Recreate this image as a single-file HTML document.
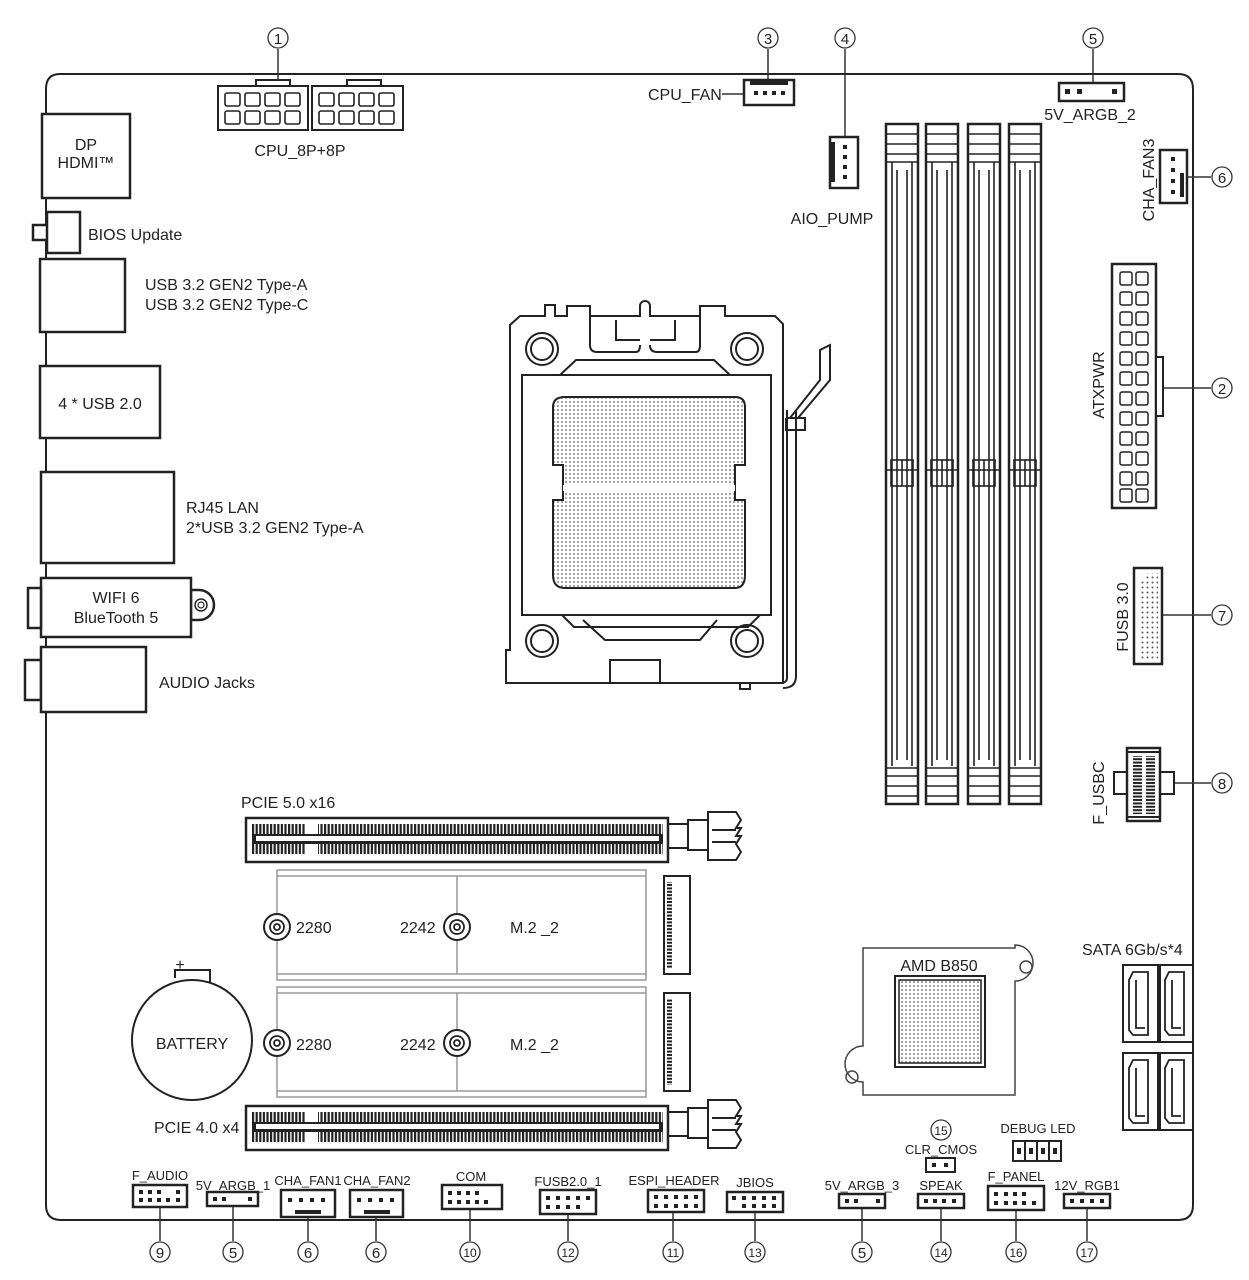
<!DOCTYPE html>
<html><head><meta charset="utf-8"><style>
html,body{margin:0;padding:0;background:#fff}
svg{display:block}
text{font-family:"Liberation Sans",sans-serif;fill:#222}
.l{font-size:16px}
.s{font-size:13px}
.n{font-size:15px;text-anchor:middle}
</style></head><body>
<svg width="1249" height="1280" viewBox="0 0 1249 1280" xmlns="http://www.w3.org/2000/svg">
<defs>
<pattern id="dots" width="5" height="5" patternUnits="userSpaceOnUse"><circle cx="2.5" cy="2.5" r="1" fill="#555"/></pattern>
<pattern id="teeth" width="3.6" height="20" patternUnits="userSpaceOnUse"><rect x="0" y="0" width="2.2" height="20" fill="#222"/></pattern>
<pattern id="hteeth" width="20" height="3.4" patternUnits="userSpaceOnUse"><rect x="0" y="0" width="20" height="2" fill="#222"/></pattern>
<pattern id="cdots" width="4" height="4" patternUnits="userSpaceOnUse"><circle cx="2" cy="2" r="0.9" fill="#666"/></pattern>
</defs>
<g fill="none" stroke="#222" stroke-width="2">
<path d="M60 74 H1178 Q1193 74 1193 89 V1205 Q1193 1220 1178 1220 H61 Q46 1220 46 1205 V89 Q46 74 60 74 Z"/>
</g>
<g fill="#fff" stroke="#222" stroke-width="2.5">
<rect x="42" y="114" width="88" height="84"/>
<rect x="33" y="225" width="15" height="15"/>
<rect x="47" y="212" width="33" height="41"/>
<rect x="40" y="259" width="85" height="73"/>
<rect x="40" y="366" width="120" height="72"/>
<rect x="41" y="472" width="133" height="91"/>
<path d="M191 590 h8 a14 14 0 0 1 0 30 h-8 z"/>
<rect x="41" y="578" width="150" height="59"/>
<rect x="28" y="588" width="13" height="40"/>
<rect x="25" y="660" width="16" height="40"/>
<rect x="41" y="647" width="105" height="65"/>
</g>
<circle cx="201" cy="605" r="6" fill="none" stroke="#222" stroke-width="1.5"/>
<circle cx="201" cy="605" r="3" fill="none" stroke="#222" stroke-width="1.2"/>
<text x="86" y="150" class="l" text-anchor="middle">DP</text>
<text x="86" y="168" class="l" text-anchor="middle">HDMI™</text>
<text x="88" y="240" class="l">BIOS Update</text>
<text x="145" y="290" class="l">USB 3.2 GEN2 Type-A</text>
<text x="145" y="310" class="l">USB 3.2 GEN2 Type-C</text>
<text x="100" y="409" class="l" text-anchor="middle">4 * USB 2.0</text>
<text x="186" y="513" class="l">RJ45 LAN</text>
<text x="186" y="533" class="l">2*USB 3.2 GEN2 Type-A</text>
<text x="116" y="603" class="l" text-anchor="middle">WIFI 6</text>
<text x="116" y="623" class="l" text-anchor="middle">BlueTooth 5</text>
<text x="159" y="688" class="l">AUDIO Jacks</text>

<g fill="#fff" stroke="#222" stroke-width="2">
<rect x="256" y="80" width="34" height="6"/><rect x="347" y="80" width="34" height="6"/>
<rect x="218" y="86" width="90" height="44"/><rect x="312" y="86" width="91" height="44"/>
</g>
<g fill="none" stroke="#222" stroke-width="1.6">
<rect x="225" y="93" width="15" height="13" rx="2"/><rect x="245" y="93" width="15" height="13" rx="2"/><rect x="265" y="93" width="15" height="13" rx="2"/><rect x="285" y="93" width="15" height="13" rx="2"/>
<rect x="225" y="111" width="15" height="13" rx="2"/><rect x="245" y="111" width="15" height="13" rx="2"/><rect x="265" y="111" width="15" height="13" rx="2"/><rect x="285" y="111" width="15" height="13" rx="2"/>
<rect x="319" y="93" width="15" height="13" rx="2"/><rect x="339" y="93" width="15" height="13" rx="2"/><rect x="359" y="93" width="15" height="13" rx="2"/><rect x="379" y="93" width="15" height="13" rx="2"/>
<rect x="319" y="111" width="15" height="13" rx="2"/><rect x="339" y="111" width="15" height="13" rx="2"/><rect x="359" y="111" width="15" height="13" rx="2"/><rect x="379" y="111" width="15" height="13" rx="2"/>
</g>
<text x="300" y="156" class="l" text-anchor="middle">CPU_8P+8P</text>

<g stroke="#333" stroke-width="1.5">
<line x1="278" y1="49" x2="278" y2="80"/>
<line x1="768" y1="49" x2="768" y2="80"/>
<line x1="722" y1="94" x2="744" y2="94"/>
<line x1="845" y1="49" x2="845" y2="137"/>
<line x1="1093" y1="49" x2="1093" y2="83"/>
<line x1="1187" y1="177" x2="1211" y2="177"/>
<line x1="1163" y1="388" x2="1211" y2="388"/>
<line x1="1162" y1="615" x2="1211" y2="615"/>
<line x1="1175" y1="783" x2="1211" y2="783"/>
</g>
<rect x="744" y="80" width="50" height="25" fill="#fff" stroke="#222" stroke-width="2.5"/>
<rect x="750" y="81" width="38" height="4" fill="#222"/>
<g fill="#222"><rect x="754" y="91" width="4" height="4"/><rect x="763" y="91" width="4" height="4"/><rect x="772" y="91" width="4" height="4"/><rect x="781" y="91" width="4" height="4"/></g>
<text x="648" y="100" class="l">CPU_FAN</text>
<rect x="830" y="137" width="28" height="51" fill="#fff" stroke="#222" stroke-width="2.5"/>
<rect x="831" y="142" width="4" height="40" fill="#222"/>
<g fill="#222"><rect x="843" y="145" width="4" height="4"/><rect x="843" y="155" width="4" height="4"/><rect x="843" y="165" width="4" height="4"/><rect x="843" y="175" width="4" height="4"/></g>
<text x="832" y="224" class="l" text-anchor="middle">AIO_PUMP</text>
<rect x="1059" y="83" width="65" height="18" fill="#fff" stroke="#222" stroke-width="2.5"/>
<g fill="#222"><rect x="1065" y="89" width="5" height="5"/><rect x="1077" y="89" width="5" height="5"/><rect x="1112" y="89" width="5" height="5"/></g>
<text x="1090" y="120" class="l" text-anchor="middle">5V_ARGB_2</text>
<rect x="1160" y="150" width="27" height="53" fill="#fff" stroke="#222" stroke-width="2.5"/>
<rect x="1180" y="173" width="4" height="24" fill="#222"/>
<g fill="#222"><rect x="1171" y="157" width="4" height="4"/><rect x="1171" y="168" width="4" height="4"/><rect x="1171" y="179" width="4" height="4"/><rect x="1171" y="190" width="4" height="4"/></g>
<text transform="translate(1154,180) rotate(-90)" class="l" text-anchor="middle">CHA_FAN3</text>
<rect x="1112" y="264" width="44" height="244" fill="#fff" stroke="#222" stroke-width="2.5"/>
<rect x="1156" y="357" width="7" height="59" fill="#fff" stroke="#222" stroke-width="2"/>
<g fill="none" stroke="#222" stroke-width="1.5">
<rect x="1120" y="272" width="12" height="13" rx="2"/><rect x="1136" y="272" width="12" height="13" rx="2"/>
<rect x="1120" y="292" width="12" height="13" rx="2"/><rect x="1136" y="292" width="12" height="13" rx="2"/>
<rect x="1120" y="312" width="12" height="13" rx="2"/><rect x="1136" y="312" width="12" height="13" rx="2"/>
<rect x="1120" y="332" width="12" height="13" rx="2"/><rect x="1136" y="332" width="12" height="13" rx="2"/>
<rect x="1120" y="352" width="12" height="13" rx="2"/><rect x="1136" y="352" width="12" height="13" rx="2"/>
<rect x="1120" y="372" width="12" height="13" rx="2"/><rect x="1136" y="372" width="12" height="13" rx="2"/>
<rect x="1120" y="392" width="12" height="13" rx="2"/><rect x="1136" y="392" width="12" height="13" rx="2"/>
<rect x="1120" y="412" width="12" height="13" rx="2"/><rect x="1136" y="412" width="12" height="13" rx="2"/>
<rect x="1120" y="432" width="12" height="13" rx="2"/><rect x="1136" y="432" width="12" height="13" rx="2"/>
<rect x="1120" y="452" width="12" height="13" rx="2"/><rect x="1136" y="452" width="12" height="13" rx="2"/>
<rect x="1120" y="472" width="12" height="13" rx="2"/><rect x="1136" y="472" width="12" height="13" rx="2"/>
<rect x="1120" y="489" width="12" height="13" rx="2"/><rect x="1136" y="489" width="12" height="13" rx="2"/>
</g>
<text transform="translate(1104,385) rotate(-90)" class="l" text-anchor="middle">ATXPWR</text>
<rect x="1134" y="568" width="28" height="96" fill="#fff" stroke="#222" stroke-width="2.5"/>
<rect x="1139" y="573" width="19" height="87" fill="url(#dots)"/>
<rect x="1139" y="571" width="6" height="8" fill="#fff"/>
<text transform="translate(1128,617) rotate(-90)" class="l" text-anchor="middle">FUSB 3.0</text>
<!-- F_USBC -->
<rect x="1114" y="772" width="14" height="22" fill="#fff" stroke="#222" stroke-width="2"/>
<rect x="1160" y="772" width="14" height="22" fill="#fff" stroke="#222" stroke-width="2"/>
<rect x="1127" y="748" width="33" height="73" fill="#fff" stroke="#222" stroke-width="2.5"/>
<rect x="1133" y="756" width="9" height="58" fill="url(#hteeth)"/>
<rect x="1146" y="756" width="9" height="58" fill="url(#hteeth)"/>
<line x1="1127" y1="752" x2="1160" y2="752" stroke="#222" stroke-width="2"/>
<line x1="1127" y1="817" x2="1160" y2="817" stroke="#222" stroke-width="2"/>
<text transform="translate(1104,793) rotate(-90)" class="l" text-anchor="middle">F_USBC</text>

<g id="dimm">
<rect x="886" y="124" width="32" height="680" fill="#fff" stroke="#222" stroke-width="2.5"/>
<g stroke="#222" stroke-width="1.6" fill="none">
<line x1="886" y1="134" x2="918" y2="134"/><line x1="886" y1="144" x2="918" y2="144"/><line x1="886" y1="154" x2="918" y2="154"/><line x1="886" y1="162" x2="918" y2="162"/>
<line x1="892" y1="162" x2="892" y2="766"/><line x1="897" y1="170" x2="897" y2="760"/><line x1="907" y1="170" x2="907" y2="760"/><line x1="912" y1="162" x2="912" y2="766"/>
<line x1="886" y1="768" x2="918" y2="768"/><line x1="886" y1="776" x2="918" y2="776"/><line x1="886" y1="786" x2="918" y2="786"/><line x1="886" y1="796" x2="918" y2="796"/>
<rect x="891" y="460" width="22" height="26"/><line x1="902" y1="460" x2="902" y2="486"/>
<line x1="886" y1="470" x2="918" y2="470"/>
</g>
</g>
<use href="#dimm" x="40"/><use href="#dimm" x="82"/><use href="#dimm" x="123"/>

<g fill="none" stroke="#222" stroke-width="2">
<path d="M520 316 H545 V305 H555 V316 H567 V306 H590 V316 H623 H640 V306 a5 5 0 0 1 10 0 V316 H700 V306 H725 V316 H752 H775 L783 324 V683 H506 V650 H510 V325 Z"/>
<path d="M590 316 V345 Q590 352 597 352 H636 Q640 352 640 345 M650 345 Q650 352 657 352 H696 Q700 352 700 345 V316"/>
<path d="M616 320 V340 H640 M650 340 H675 V320"/>
<circle cx="542" cy="349" r="16"/><circle cx="542" cy="349" r="11"/>
<circle cx="747" cy="349" r="16"/><circle cx="747" cy="349" r="11"/>
<circle cx="542" cy="641" r="16"/><circle cx="542" cy="641" r="11"/>
<circle cx="747" cy="641" r="16"/><circle cx="747" cy="641" r="11"/>
<path d="M522 375 H560 L576 360 H714 L730 375 H771 V615 H760 L748 627 H574 L562 615 H522 Z"/>
<rect x="522" y="375" width="249" height="240"/>
<path d="M583 620 L605 640 H700 L717 620"/>
<path d="M610 683 V660 H660 V683"/>
<path d="M787 410 V678 Q787 683 780 683 M796 410 V676 Q796 688 783 688"/>
<path d="M786 418 V430 H805 V418 H786"/>
<path d="M790 418 L820 380 L820 350 L830 345 L830 380 L798 418"/>
<rect x="740" y="683" width="10" height="6"/>
</g>
<path d="M565 397 H735 Q745 397 745 407 V465 H735 V500 H745 V575 Q745 588 735 588 H565 Q553 588 553 575 V500 H563 V465 H553 V407 Q553 397 565 397 Z" fill="url(#cdots)" stroke="#222" stroke-width="2"/>
<line x1="563" y1="488" x2="735" y2="488" stroke="#fff" stroke-width="6"/>

<g id="pcie">
<rect x="246" y="818" width="422" height="44" fill="#fff" stroke="#222" stroke-width="2.5"/>
<rect x="252" y="824" width="54" height="10" fill="url(#teeth)"/>
<rect x="318" y="824" width="345" height="10" fill="url(#teeth)"/>
<rect x="252" y="844" width="54" height="10" fill="url(#teeth)"/>
<rect x="318" y="844" width="345" height="10" fill="url(#teeth)"/>
<rect x="252" y="834" width="411" height="10" fill="#222"/>
<rect x="256" y="836" width="403" height="5" fill="#fff"/>
<g fill="none" stroke="#222" stroke-width="2">
<rect x="668" y="824" width="20" height="24"/><rect x="688" y="820" width="20" height="30"/>
<path d="M708 812 H736 L741 820 L736 828 H741 L736 836 H741 L736 844 L741 852 L736 860 H708 Z"/>
<line x1="712" y1="830" x2="736" y2="830"/><line x1="712" y1="842" x2="736" y2="842"/>
</g>
</g>
<use href="#pcie" y="288"/>
<text x="241" y="808" class="l">PCIE 5.0 x16</text>
<text x="154" y="1133" class="l">PCIE 4.0 x4</text>

<g fill="none" stroke="#999" stroke-width="1.5">
<rect x="277" y="870" width="369" height="110"/><line x1="277" y1="876" x2="646" y2="876"/><line x1="277" y1="974" x2="646" y2="974"/><line x1="457" y1="876" x2="457" y2="974"/>
<rect x="277" y="987" width="369" height="110"/><line x1="277" y1="993" x2="646" y2="993"/><line x1="277" y1="1091" x2="646" y2="1091"/><line x1="457" y1="993" x2="457" y2="1091"/>
</g>
<g fill="#fff" stroke="#222" stroke-width="2">
<rect x="664" y="876" width="26" height="98"/><rect x="664" y="993" width="26" height="98"/>
</g>
<rect x="667" y="882" width="5" height="86" fill="url(#hteeth)"/>
<rect x="667" y="999" width="5" height="86" fill="url(#hteeth)"/>
<g fill="#fff" stroke="#222" stroke-width="2">
<circle cx="277" cy="927" r="13"/><circle cx="457" cy="927" r="13"/><circle cx="277" cy="1043" r="13"/><circle cx="457" cy="1043" r="13"/>
</g>
<g fill="none" stroke="#222" stroke-width="1.8">
<circle cx="277" cy="927" r="7"/><circle cx="277" cy="927" r="3"/><circle cx="457" cy="927" r="7"/><circle cx="457" cy="927" r="3"/>
<circle cx="277" cy="1043" r="7"/><circle cx="277" cy="1043" r="3"/><circle cx="457" cy="1043" r="7"/><circle cx="457" cy="1043" r="3"/>
</g>
<text x="296" y="933" class="l">2280</text><text x="400" y="933" class="l">2242</text><text x="510" y="933" class="l">M.2 _2</text>
<text x="296" y="1050" class="l">2280</text><text x="400" y="1050" class="l">2242</text><text x="510" y="1050" class="l">M.2 _2</text>

<path d="M175 978 V970 H210 V982" fill="none" stroke="#222" stroke-width="2"/>
<circle cx="192" cy="1040" r="60" fill="none" stroke="#222" stroke-width="2"/>
<text x="180" y="970" class="l" text-anchor="middle">+</text>
<text x="192" y="1049" class="l" text-anchor="middle">BATTERY</text>

<path d="M863 948 H1015 V945 a18 18 0 0 1 0 36 V1095 H863 V1082 a18 18 0 0 1 0 -36 Z" fill="none" stroke="#444" stroke-width="1.5"/>
<circle cx="1026" cy="967" r="6" fill="none" stroke="#444" stroke-width="1.5"/>
<circle cx="852" cy="1077" r="6" fill="none" stroke="#444" stroke-width="1.5"/>
<rect x="895" y="976" width="90" height="91" fill="#fff" stroke="#222" stroke-width="2"/>
<rect x="899" y="980" width="82" height="83" fill="url(#cdots)" stroke="#222" stroke-width="1.5"/>
<text x="939" y="971" class="l" text-anchor="middle">AMD B850</text>

<g fill="#fff" stroke="#222" stroke-width="2">
<rect x="1123" y="965" width="35" height="77"/><rect x="1160" y="965" width="33" height="77"/>
<rect x="1123" y="1053" width="35" height="77"/><rect x="1160" y="1053" width="33" height="77"/>
</g>
<g fill="none" stroke="#222" stroke-width="1.8">
<path d="M1133 972 H1148 V1035 H1133 L1129 1030 V980 Z M1136 980 V1028 H1145"/>
<path d="M1169 972 H1184 V1035 H1169 L1165 1030 V980 Z M1172 980 V1028 H1181"/>
<path d="M1133 1060 H1148 V1123 H1133 L1129 1118 V1068 Z M1136 1068 V1116 H1145"/>
<path d="M1169 1060 H1184 V1123 H1169 L1165 1118 V1068 Z M1172 1068 V1116 H1181"/>
</g>
<text x="1082" y="955" class="l">SATA 6Gb/s*4</text>

<g fill="#fff" stroke="#222" stroke-width="2">
<rect x="1013" y="1141" width="12" height="20"/><rect x="1025" y="1141" width="12" height="20"/><rect x="1037" y="1141" width="12" height="20"/><rect x="1049" y="1141" width="12" height="20"/>
<rect x="926" y="1158" width="29" height="14"/>
</g>
<g fill="#222"><rect x="1017" y="1148" width="4" height="6"/><rect x="1029" y="1148" width="4" height="6"/><rect x="1041" y="1148" width="4" height="6"/><rect x="1053" y="1148" width="4" height="6"/><rect x="932" y="1163" width="4" height="4"/><rect x="944" y="1163" width="4" height="4"/></g>
<text x="1038" y="1133" class="s" text-anchor="middle">DEBUG  LED</text>
<text x="941" y="1154" class="s" text-anchor="middle">CLR_CMOS</text>

<g fill="#fff" stroke="#222" stroke-width="2.5">
<rect x="133" y="1185" width="54" height="22"/>
<rect x="207" y="1192" width="51" height="14"/>
<rect x="281" y="1190" width="54" height="27"/>
<rect x="350" y="1190" width="53" height="27"/>
<rect x="442" y="1185" width="60" height="24"/>
<rect x="540" y="1190" width="56" height="24"/>
<rect x="648" y="1190" width="56" height="22"/>
<rect x="727" y="1192" width="56" height="20"/>
<rect x="839" y="1194" width="46" height="14"/>
<rect x="918" y="1194" width="46" height="14"/>
<rect x="988" y="1186" width="56" height="24"/>
<rect x="1064" y="1194" width="46" height="14"/>
</g>
<g fill="#222">
<rect x="139" y="1190" width="4" height="4"/><rect x="148" y="1190" width="4" height="4"/><rect x="157" y="1190" width="4" height="4"/><rect x="176" y="1190" width="4" height="4"/>
<rect x="139" y="1198" width="4" height="4"/><rect x="148" y="1198" width="4" height="4"/><rect x="157" y="1198" width="4" height="4"/><rect x="166" y="1198" width="4" height="4"/><rect x="176" y="1198" width="4" height="4"/>
<rect x="213" y="1197" width="4" height="4"/><rect x="222" y="1197" width="4" height="4"/><rect x="248" y="1197" width="4" height="4"/>
<rect x="288" y="1198" width="4" height="4"/><rect x="299" y="1198" width="4" height="4"/><rect x="310" y="1198" width="4" height="4"/><rect x="321" y="1198" width="4" height="4"/><rect x="295" y="1210" width="26" height="4"/>
<rect x="357" y="1198" width="4" height="4"/><rect x="368" y="1198" width="4" height="4"/><rect x="379" y="1198" width="4" height="4"/><rect x="390" y="1198" width="4" height="4"/><rect x="364" y="1210" width="26" height="4"/>
<rect x="448" y="1191" width="4" height="4"/><rect x="457" y="1191" width="4" height="4"/><rect x="466" y="1191" width="4" height="4"/><rect x="475" y="1191" width="4" height="4"/>
<rect x="448" y="1200" width="4" height="4"/><rect x="457" y="1200" width="4" height="4"/><rect x="466" y="1200" width="4" height="4"/><rect x="475" y="1200" width="4" height="4"/><rect x="484" y="1200" width="4" height="4"/>
<rect x="546" y="1196" width="4" height="4"/><rect x="556" y="1196" width="4" height="4"/><rect x="566" y="1196" width="4" height="4"/><rect x="576" y="1196" width="4" height="4"/><rect x="586" y="1196" width="4" height="4"/>
<rect x="546" y="1205" width="4" height="4"/><rect x="556" y="1205" width="4" height="4"/><rect x="566" y="1205" width="4" height="4"/><rect x="576" y="1205" width="4" height="4"/>
<rect x="654" y="1195" width="4" height="4"/><rect x="664" y="1195" width="4" height="4"/><rect x="674" y="1195" width="4" height="4"/><rect x="684" y="1195" width="4" height="4"/><rect x="694" y="1195" width="4" height="4"/>
<rect x="654" y="1204" width="4" height="4"/><rect x="664" y="1204" width="4" height="4"/><rect x="674" y="1204" width="4" height="4"/><rect x="684" y="1204" width="4" height="4"/><rect x="694" y="1204" width="4" height="4"/>
<rect x="732" y="1196" width="4" height="4"/><rect x="742" y="1196" width="4" height="4"/><rect x="752" y="1196" width="4" height="4"/><rect x="762" y="1196" width="4" height="4"/><rect x="772" y="1196" width="4" height="4"/>
<rect x="742" y="1204" width="4" height="4"/><rect x="752" y="1204" width="4" height="4"/><rect x="762" y="1204" width="4" height="4"/><rect x="772" y="1204" width="4" height="4"/>
<rect x="845" y="1199" width="4" height="4"/><rect x="854" y="1199" width="4" height="4"/><rect x="876" y="1199" width="4" height="4"/>
<rect x="924" y="1199" width="4" height="4"/><rect x="933" y="1199" width="4" height="4"/><rect x="942" y="1199" width="4" height="4"/><rect x="952" y="1199" width="4" height="4"/>
<rect x="994" y="1192" width="4" height="4"/><rect x="1004" y="1192" width="4" height="4"/><rect x="1013" y="1192" width="4" height="4"/><rect x="1022" y="1192" width="4" height="4"/>
<rect x="994" y="1201" width="4" height="4"/><rect x="1004" y="1201" width="4" height="4"/><rect x="1013" y="1201" width="4" height="4"/><rect x="1022" y="1201" width="4" height="4"/><rect x="1032" y="1201" width="4" height="4"/>
<rect x="1070" y="1199" width="4" height="4"/><rect x="1080" y="1199" width="4" height="4"/><rect x="1090" y="1199" width="4" height="4"/><rect x="1100" y="1199" width="4" height="4"/>
</g>
<text x="160" y="1180" class="s" text-anchor="middle">F_AUDIO</text>
<text x="233" y="1190" class="s" text-anchor="middle">5V_ARGB_1</text>
<text x="308" y="1185" class="s" text-anchor="middle">CHA_FAN1</text>
<text x="377" y="1185" class="s" text-anchor="middle">CHA_FAN2</text>
<text x="471" y="1181" class="s" text-anchor="middle">COM</text>
<text x="568" y="1186" class="s" text-anchor="middle">FUSB2.0_1</text>
<text x="674" y="1185" class="s" text-anchor="middle">ESPI_HEADER</text>
<text x="755" y="1187" class="s" text-anchor="middle">JBIOS</text>
<text x="862" y="1190" class="s" text-anchor="middle">5V_ARGB_3</text>
<text x="941" y="1190" class="s" text-anchor="middle">SPEAK</text>
<text x="1016" y="1181" class="s" text-anchor="middle">F_PANEL</text>
<text x="1087" y="1190" class="s" text-anchor="middle">12V_RGB1</text>
<g stroke="#333" stroke-width="1.5">
<line x1="160" y1="1208" x2="160" y2="1241"/><line x1="233" y1="1207" x2="233" y2="1241"/><line x1="308" y1="1218" x2="308" y2="1241"/><line x1="376" y1="1218" x2="376" y2="1241"/>
<line x1="470" y1="1210" x2="470" y2="1241"/><line x1="568" y1="1215" x2="568" y2="1241"/><line x1="673" y1="1213" x2="673" y2="1241"/><line x1="755" y1="1213" x2="755" y2="1241"/>
<line x1="862" y1="1209" x2="862" y2="1241"/><line x1="941" y1="1209" x2="941" y2="1241"/><line x1="1016" y1="1211" x2="1016" y2="1241"/><line x1="1087" y1="1209" x2="1087" y2="1241"/>
</g>
<g fill="#fff" stroke="#333" stroke-width="1.3">
<circle cx="278" cy="38" r="10"/><circle cx="768" cy="38" r="10"/><circle cx="845" cy="38" r="10"/><circle cx="1093" cy="38" r="10"/>
<circle cx="1222" cy="177" r="10"/><circle cx="1222" cy="388" r="10"/><circle cx="1222" cy="615" r="10"/><circle cx="1222" cy="783" r="10"/>
<circle cx="160" cy="1252" r="10"/><circle cx="233" cy="1252" r="10"/><circle cx="308" cy="1252" r="10"/><circle cx="376" cy="1252" r="10"/>
<circle cx="470" cy="1252" r="10"/><circle cx="568" cy="1252" r="10"/><circle cx="673" cy="1252" r="10"/><circle cx="755" cy="1252" r="10"/>
<circle cx="862" cy="1252" r="10"/><circle cx="941" cy="1252" r="10"/><circle cx="1016" cy="1252" r="10"/><circle cx="1087" cy="1252" r="10"/>
<circle cx="941" cy="1130" r="10"/>
</g>
<text x="278" y="44" class="n">1</text><text x="768" y="44" class="n">3</text><text x="845" y="44" class="n">4</text><text x="1093" y="44" class="n">5</text>
<text x="1222" y="183" class="n">6</text><text x="1222" y="394" class="n">2</text><text x="1222" y="621" class="n">7</text><text x="1222" y="789" class="n">8</text>
<text x="160" y="1258" class="n">9</text><text x="233" y="1258" class="n">5</text><text x="308" y="1258" class="n">6</text><text x="376" y="1258" class="n">6</text>
<text x="470" y="1257" class="n" style="font-size:12px">10</text><text x="568" y="1257" class="n" style="font-size:12px">12</text><text x="673" y="1257" class="n" style="font-size:12px">11</text><text x="755" y="1257" class="n" style="font-size:12px">13</text>
<text x="862" y="1258" class="n">5</text><text x="941" y="1257" class="n" style="font-size:12px">14</text><text x="1016" y="1257" class="n" style="font-size:12px">16</text><text x="1087" y="1257" class="n" style="font-size:12px">17</text>
<text x="941" y="1135" class="n" style="font-size:12px">15</text>
</svg>
</body></html>
